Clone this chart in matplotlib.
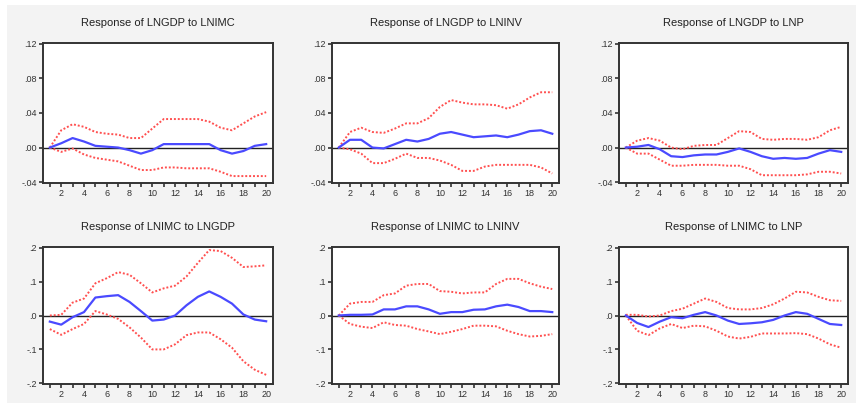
import matplotlib
matplotlib.use("Agg")
import matplotlib.pyplot as plt
from matplotlib.patches import Rectangle
from matplotlib.ticker import MultipleLocator, FixedLocator

plt.rcParams["font.family"] = ["Liberation Sans", "DejaVu Sans"]

periods = list(range(1, 21))

titles = [
    "Response of LNGDP to LNIMC", "Response of LNGDP to LNINV", "Response of LNGDP to LNP",
    "Response of LNIMC to LNGDP", "Response of LNIMC to LNINV", "Response of LNIMC to LNP",
]

# impulse responses (blue) and +/- 2 S.E. bands (red dotted)
gdp_imc = [0, .005, .011, .007, .002, .001, .000, -.003, -.007, -.003, .004, .004, .004, .004, .004, -.003, -.007, -.004, .002, .004]
gdp_imc_hi = [0, .020, .027, .024, .018, .016, .015, .011, .011, .022, .033, .033, .033, .033, .030, .023, .020, .028, .036, .041]
gdp_imc_lo = [0, -.005, -.001, -.008, -.012, -.014, -.016, -.021, -.026, -.026, -.023, -.023, -.024, -.024, -.024, -.028, -.033, -.033, -.033, -.033]

gdp_inv = [0, .009, .009, .000, -.001, .004, .009, .007, .010, .016, .018, .015, .012, .013, .014, .012, .015, .019, .020, .016]
gdp_inv_hi = [0, .018, .023, .018, .017, .022, .028, .028, .034, .047, .055, .052, .050, .050, .049, .045, .050, .058, .064, .064]
gdp_inv_lo = [0, -.002, -.007, -.018, -.018, -.013, -.007, -.012, -.012, -.015, -.020, -.027, -.027, -.022, -.020, -.020, -.020, -.020, -.023, -.030]

gdp_p = [0, .001, .003, -.002, -.010, -.011, -.009, -.008, -.008, -.005, -.001, -.005, -.010, -.013, -.012, -.013, -.012, -.007, -.003, -.005]
gdp_p_hi = [0, .008, .011, .008, .000, -.002, .002, .003, .003, .011, .019, .018, .010, .009, .010, .010, .009, .012, .020, .024]
gdp_p_lo = [0, -.007, -.007, -.014, -.021, -.021, -.020, -.020, -.020, -.021, -.021, -.025, -.032, -.032, -.032, -.032, -.031, -.028, -.028, -.030]

imc_gdp = [-.018, -.027, -.005, .010, .053, .057, .060, .040, .013, -.015, -.012, .000, .030, .055, .071, .055, .035, .003, -.012, -.017]
imc_gdp_hi = [.000, .002, .038, .050, .095, .110, .128, .120, .095, .068, .080, .088, .115, .155, .193, .190, .170, .143, .145, .148]
imc_gdp_lo = [-.040, -.057, -.040, -.025, .013, .003, -.010, -.035, -.065, -.100, -.100, -.085, -.058, -.050, -.050, -.070, -.095, -.135, -.160, -.175]

imc_inv = [0, .002, .002, .003, .018, .018, .027, .027, .018, .005, .010, .010, .017, .018, .027, .032, .025, .013, .013, .010]
imc_inv_hi = [0, .035, .040, .040, .060, .065, .088, .093, .093, .072, .070, .065, .068, .068, .093, .108, .108, .095, .085, .078]
imc_inv_lo = [0, -.025, -.033, -.037, -.020, -.028, -.030, -.040, -.047, -.055, -.048, -.040, -.030, -.030, -.032, -.045, -.055, -.062, -.060, -.055]

imc_p = [0, -.022, -.034, -.018, -.005, -.008, .002, .010, .000, -.015, -.025, -.023, -.020, -.013, .000, .010, .005, -.010, -.025, -.028]
imc_p_hi = [.002, .002, -.003, .000, .013, .020, .035, .050, .040, .022, .018, .018, .022, .033, .050, .070, .068, .055, .045, .043]
imc_p_lo = [0, -.045, -.058, -.038, -.025, -.037, -.030, -.032, -.045, -.062, -.068, -.063, -.053, -.053, -.053, -.052, -.055, -.068, -.085, -.095]

responses = [gdp_imc, gdp_inv, gdp_p, imc_gdp, imc_inv, imc_p]
uppers = [gdp_imc_hi, gdp_inv_hi, gdp_p_hi, imc_gdp_hi, imc_inv_hi, imc_p_hi]
lowers = [gdp_imc_lo, gdp_inv_lo, gdp_p_lo, imc_gdp_lo, imc_inv_lo, imc_p_lo]

top_ticks = [-.04, .00, .04, .08, .12]
top_labels = ["-.04", ".00", ".04", ".08", ".12"]
bot_ticks = [-.2, -.1, .0, .1, .2]
bot_labels = ["-.2", "-.1", ".0", ".1", ".2"]

W, H = 860, 407
fig = plt.figure(figsize=(W / 100, H / 100), dpi=100)
fig.patch.set_facecolor("white")
fig.patches.append(Rectangle((7 / W, 4 / H), 849 / W, 398 / H, transform=fig.transFigure,
                             facecolor="#f3f3f3", edgecolor="none", zorder=-10))

# pixel boxes: left, right, top, bottom
cols = [(43, 273), (332, 559), (619, 848)]
rows = [(43, 183), (247, 384)]

for i in range(6):
    r, c = divmod(i, 3)
    l, rr = cols[c]
    t, b = rows[r]
    ax = fig.add_axes([l / W, 1 - b / H, (rr - l) / W, (b - t) / H])
    ax.set_facecolor("white")
    ax.axhline(0, color="#222222", lw=1.0, zorder=1)
    ax.plot(periods, uppers[i], color="#ff5050", lw=1.4, ls=(0, (1, 1)), zorder=2)
    ax.plot(periods, lowers[i], color="#ff5050", lw=1.4, ls=(0, (1, 1)), zorder=2)
    ax.plot(periods, responses[i], color="#4a4aff", lw=1.6, zorder=3)
    ax.set_xlim(0.4, 20.6)
    if r == 0:
        ax.set_ylim(-.041, .121)
        ax.set_yticks(top_ticks)
        ax.set_yticklabels(top_labels)
    else:
        ax.set_ylim(-.202, .202)
        ax.set_yticks(bot_ticks)
        ax.set_yticklabels(bot_labels)
    ax.xaxis.set_major_locator(FixedLocator(list(range(2, 21, 2))))
    ax.xaxis.set_minor_locator(MultipleLocator(1))
    ax.tick_params(axis="both", which="both", direction="out", length=3, width=1.2,
                   color="#333333", labelsize=6.5, labelcolor="#333333", pad=1.5)
    for s in ax.spines.values():
        s.set_linewidth(1.4)
        s.set_color("#333333")
    fig.text((l + rr) / 2 / W, 1 - (t - 20) / H, titles[i], ha="center", va="center",
             fontsize=8, color="#222222")

fig.savefig("out.png", dpi=100)
